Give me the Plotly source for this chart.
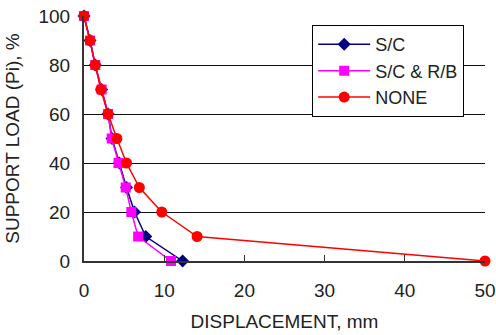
import plotly.graph_objects as go

support_load = [100, 90, 80, 70, 60, 50, 40, 30, 20, 10, 0]
disp_sc = [0, 0.75, 1.4, 2.2, 3.0, 3.5, 4.4, 5.3, 6.3, 7.7, 12.3]
disp_scrb = [0, 0.75, 1.4, 2.2, 3.0, 3.45, 4.3, 5.2, 5.9, 6.75, 10.85]
disp_none = [0, 0.75, 1.4, 2.1, 3.0, 4.1, 5.3, 6.9, 9.7, 14.1, 50]

x_ticks = [0, 10, 20, 30, 40, 50]
y_ticks = [0, 20, 40, 60, 80, 100]

font = "Liberation Sans, Arial, sans-serif"

fig = go.Figure()
fig.add_trace(go.Scatter(x=disp_sc, y=support_load, name="S/C", mode="lines+markers",
                         line=dict(color="#000080", width=1.5),
                         marker=dict(symbol="diamond", size=10, color="#000080"),
                         cliponaxis=False))
fig.add_trace(go.Scatter(x=disp_scrb, y=support_load, name="S/C & R/B", mode="lines+markers",
                         line=dict(color="#FF00FF", width=1.5),
                         marker=dict(symbol="square", size=10, color="#FF00FF"),
                         cliponaxis=False))
fig.add_trace(go.Scatter(x=disp_none, y=support_load, name="NONE", mode="lines+markers",
                         line=dict(color="#FF0000", width=1.5),
                         marker=dict(symbol="circle", size=11, color="#FF0000"),
                         cliponaxis=False))

fig.update_layout(
    width=496, height=335,
    margin=dict(l=84, r=11, t=16, b=74, autoexpand=False),
    paper_bgcolor="white", plot_bgcolor="white",
    font=dict(family=font, size=19, color="#222"),
    legend=dict(x=0.569, y=0.963, xanchor="left", yanchor="top",
                bgcolor="white", bordercolor="black", borderwidth=1,
                font=dict(size=18), tracegroupgap=0, itemwidth=52),
    xaxis=dict(range=[0, 50], tickvals=x_ticks, ticks="inside", ticklen=6,
               tickcolor="#333", showline=True, linecolor="#333", linewidth=2,
               showgrid=False, zeroline=False, ticklabelstandoff=11, automargin=False,
               title=dict(text="DISPLACEMENT, mm", standoff=15, font=dict(size=19))),
    yaxis=dict(range=[0, 100], tickvals=y_ticks, ticks="", showline=True,
               linecolor="#333", linewidth=2, showgrid=True, gridcolor="#111",
               gridwidth=1, zeroline=False, ticklabelstandoff=8, automargin=False,
               title=dict(text="SUPPORT LOAD (Pi), %", standoff=14, font=dict(size=19))),
    showlegend=True,
)
fig.write_html("out.html")
